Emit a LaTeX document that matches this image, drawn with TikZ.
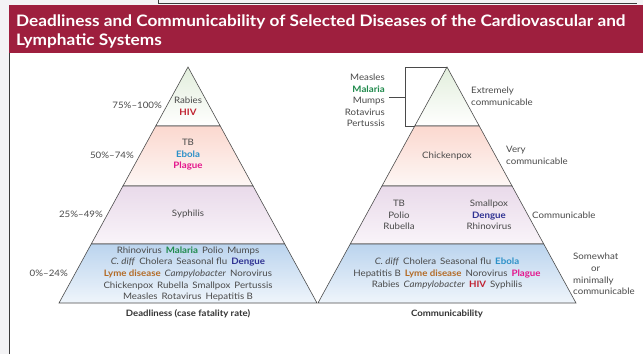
\documentclass[tikz,border=0pt]{standalone}
\usepackage{fontspec}
\setmainfont{Lato}[FakeStretch=1.09]
\definecolor{dsBanner}{HTML}{9E1F3E}
\definecolor{dsPage}{HTML}{F3F3F5}
\definecolor{dsFrame}{HTML}{3A3A3A}
\definecolor{dsText}{HTML}{4A4A4A}
\definecolor{dsLine}{HTML}{4D4D4D}
\definecolor{dsGreen}{HTML}{E2EEDC}
\definecolor{dsPink}{HTML}{FBD8CF}
\definecolor{dsPinkLow}{HTML}{FDF7F5}
\definecolor{dsLilac}{HTML}{E9DAEA}
\definecolor{dsLilacLow}{HTML}{F9F4F9}
\definecolor{dsBlue}{HTML}{BBD4EE}
\definecolor{dsBlueLow}{HTML}{EFF5FB}
\definecolor{dsRed}{HTML}{C0202F}
\definecolor{dsCyan}{HTML}{2B90C8}
\definecolor{dsMagenta}{HTML}{E4168C}
\definecolor{dsNavy}{HTML}{2E3192}
\definecolor{dsMalaria}{HTML}{1F8A4C}
\definecolor{dsLyme}{HTML}{B36B26}
\usepackage{tikz}
\usetikzlibrary{calc,positioning}

% coloured disease names and the wider gap between words
\newcommand{\dis}[2]{\textcolor{#1}{\textbf{#2}}}
\newcommand{\wsep}{\hspace{0.45em}}

\begin{document}
\begin{tikzpicture}[x=1pt, y=-1pt,
  tier/.style={draw=dsLine, line width=0.6pt},
  txt/.style={font=\fontsize{8.9}{11.6}\selectfont, text=dsText, inner sep=0pt, align=center},
  pct/.style={txt, anchor=east},
  side/.style={txt, anchor=west, align=left},
  caption/.style={font=\fontsize{8.8}{11}\selectfont\bfseries, text=black!80, inner sep=0pt},
  ttl/.style={font=\fontsize{15.8}{19}\selectfont\bfseries, text=white, inner sep=0pt, anchor=base west},
  brace/.style={draw=dsText, line width=0.6pt}
]
  \useasboundingbox (0,0) rectangle (643,354);
  % page, frame and banner
  \fill[dsPage] (0,0) rectangle (643,354);
  \fill[white] (9,5) rectangle (643,354);
  \draw[dsFrame, line width=0.8pt] (158,0) -- (158,3) -- (637,3);
  \draw[dsFrame, line width=1pt] (9,354) -- (9,5);
  \fill[dsBanner] (9,5) rectangle (643,53);
  \node[ttl] (title1) at (16,26) {Deadliness and Communicability of Selected Diseases of the Cardiovascular and};
  \node[ttl] (title2) at (16,45) {Lymphatic Systems};

  % the two pyramids, four tiers each
  \foreach \cx in {188,447} {
    \shade[tier, top color=dsGreen, bottom color=white]
      (\cx,67) -- ({\cx+32.25},126) -- ({\cx-32.25},126) -- cycle;
    \shade[tier, top color=dsPink, bottom color=dsPinkLow]
      ({\cx-32.25},126) -- ({\cx+32.25},126) -- ({\cx+65.05},186) -- ({\cx-65.05},186) -- cycle;
    \shade[tier, top color=dsLilac, bottom color=dsLilacLow]
      ({\cx-65.05},186) -- ({\cx+65.05},186) -- ({\cx+96.75},244) -- ({\cx-96.75},244) -- cycle;
    \shade[tier, top color=dsBlue, bottom color=dsBlueLow]
      ({\cx-96.75},244) -- ({\cx+96.75},244) -- ({\cx+129},303) -- ({\cx-129},303) -- cycle;
  }

  % Deadliness: fatality bands
  \node[pct] (p75) at (162,105.5) {75\%–100\%};
  \node[pct] (p50) at (134,155) {50\%–74\%};
  \node[pct] (p25) at (103,214) {25\%–49\%};
  \node[pct] (p0)  at (68,273) {0\%–24\%};
  \node[txt] (deadTop) at (188,106.5) {Rabies\\\dis{dsRed}{HIV}};
  \node[txt] (deadHigh) at (188,155) {TB\\\dis{dsCyan}{Ebola}\\\dis{dsMagenta}{Plague}};
  \node[txt] (deadMid) at (188,214) {Syphilis};
  \node[txt] (deadLow) at (188,274) {Rhinovirus\wsep\dis{dsMalaria}{Malaria}\wsep Polio\wsep Mumps\\
    \textit{C. diff}\wsep Cholera\wsep Seasonal flu\wsep\dis{dsNavy}{Dengue}\\
    \dis{dsLyme}{Lyme disease}\wsep\textit{Campylobacter}\wsep Norovirus\\
    Chickenpox\wsep Rubella\wsep Smallpox\wsep Pertussis\\
    Measles\wsep Rotavirus\wsep Hepatitis B};
  \node[caption] (deadCap) at (188,314) {Deadliness (case fatality rate)};

  % Communicability: bands on the right
  \coordinate (apexR) at (447,67);
  \coordinate (brBot) at (405.7,126);
  \coordinate (tierEdge) at (414.75,126);
  \coordinate (tickL) at (389,97);
  \node[txt, anchor=east, align=right] (extList) at (385,100.5)
    {Measles\\\dis{dsMalaria}{Malaria}\\Mumps\\Rotavirus\\Pertussis};
  \draw[brace] (apexR) -| (brBot) -- (tierEdge);
  \draw[brace] (tickL) -- (tickL -| brBot);
  \node[txt] (comHigh) at (447,156) {Chickenpox};
  \node[txt] (comMidL) at (399,215) {TB\\Polio\\Rubella};
  \node[txt] (comMidR) at (489,215) {Smallpox\\\dis{dsNavy}{Dengue}\\Rhinovirus};
  \node[txt] (comLow) at (447,273.5) {\textit{C. diff}\wsep Cholera\wsep Seasonal flu\wsep\dis{dsCyan}{Ebola}\\
    Hepatitis B\wsep\dis{dsLyme}{Lyme disease}\wsep Norovirus\wsep\dis{dsMagenta}{Plague}\\
    Rabies\wsep\textit{Campylobacter}\wsep\dis{dsRed}{HIV}\wsep Syphilis};
  \node[side] (lvlExt) at (471,96.5) {Extremely\\communicable};
  \node[side] (lvlVery) at (506,155.5) {Very\\communicable};
  \node[side] (lvlCom) at (532,215) {Communicable};
  \node[side] (lvlLow) at (573,274) {Somewhat\\\hspace*{18pt}or\\minimally\\communicable};
  \node[caption] (comCap) at (447,314) {Communicability};
\end{tikzpicture}
\end{document}
